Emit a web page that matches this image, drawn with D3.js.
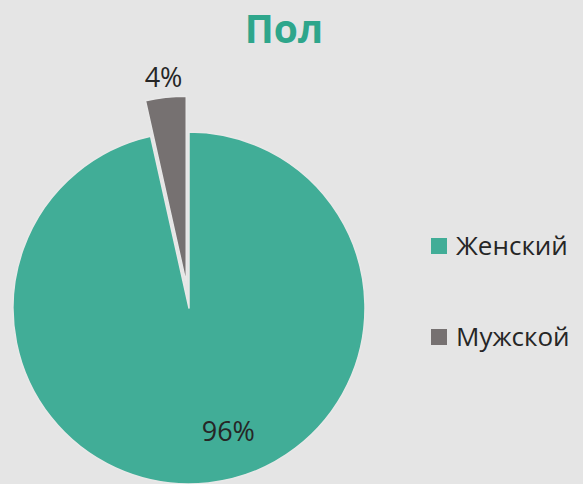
<!DOCTYPE html>
<html><head><meta charset="utf-8">
<script src="https://cdn.jsdelivr.net/npm/d3@7"></script>
<style>
html,body{margin:0;padding:0;background:#e5e5e5;}
svg{display:block;}
</style></head>
<body>
<script>
const title = "Пол";
const categories = ["Женский", "Мужской"];
const values = [96.5, 3.5];
const valueLabels = ["96%", "4%"];
const colors = ["#41ad97", "#767171"];

const W = 583, H = 484;
const svg = d3.select("body").append("svg").attr("width", W).attr("height", H);
svg.append("rect").attr("width", W).attr("height", H).attr("fill", "#e5e5e5");

svg.append("text").attr("x", 284).attr("y", 43).attr("text-anchor", "middle")
  .attr("font-family", "Open Sans").attr("font-weight", "bold").attr("font-size", 39)
  .attr("fill", "#2ea68b").text(title);

const cx = 189, cy = 308, r = 176;
const explode = 25, explodedR = 187;
const data = categories.map((c, i) => ({ c, v: values[i], label: valueLabels[i], color: colors[i] }));
const pie = d3.pie().value(d => d.v).sort(null);
const arcs = pie(data);
const g = svg.append("g").attr("transform", `translate(${cx},${cy})`);

arcs.forEach((a, i) => {
  const mid = (a.startAngle + a.endAngle) / 2;
  const isExpl = i === 1;
  const off = isExpl ? explode : 0;
  const rr = isExpl ? explodedR : r;
  const dx = Math.sin(mid) * off, dy = -Math.cos(mid) * off;
  const arc = d3.arc().innerRadius(0).outerRadius(rr);
  g.append("path").attr("d", arc(a)).attr("transform", `translate(${dx},${dy})`)
    .attr("fill", a.data.color).attr("stroke", "#e8e8e8").attr("stroke-width", 1.5)
    .attr("stroke-linejoin", "round");
  let lx, ly;
  if (isExpl) {
    const lr = rr + 20;
    lx = dx + Math.sin(mid) * lr; ly = dy - Math.cos(mid) * lr;
    ly += 10;
  } else {
    const ang = mid - 0.2, lr = 129;
    lx = Math.sin(ang) * lr; ly = -Math.cos(ang) * lr + 10;
  }
  g.append("text").attr("x", lx).attr("y", ly).attr("text-anchor", "middle")
    .attr("font-family", "Open Sans").attr("font-size", 27).attr("fill", "#262626")
    .text(a.data.label);
});

const legend = svg.append("g");
const ly = d3.scalePoint().domain(categories).range([246, 337]);
categories.forEach((c, i) => {
  legend.append("rect").attr("x", 431).attr("y", ly(c) - 8).attr("width", 16).attr("height", 16)
    .attr("fill", colors[i]);
  legend.append("text").attr("x", 456).attr("y", ly(c) + 9)
    .attr("font-family", "Open Sans").attr("font-size", 26).attr("fill", "#262626").text(c);
});
</script>
</body></html>
